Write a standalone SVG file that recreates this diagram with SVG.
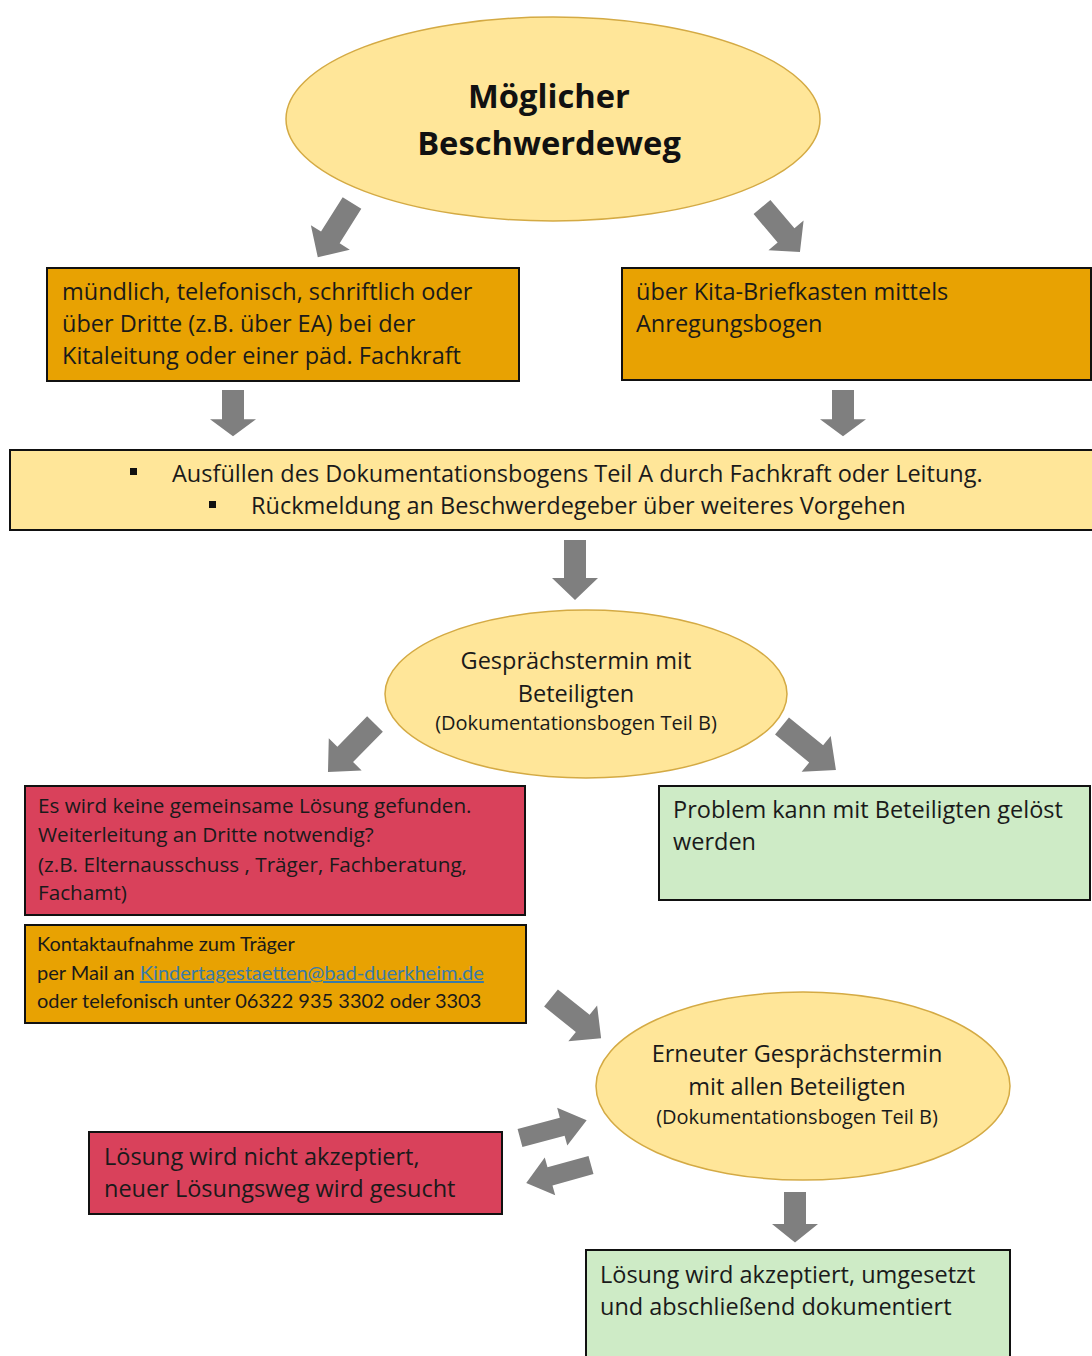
<svg xmlns="http://www.w3.org/2000/svg" xmlns:xlink="http://www.w3.org/1999/xlink" width="1092" height="1356" viewBox="0 0 1092 1356">
<style>
.t{font-family:"Open Sans","Noto Sans","Liberation Sans",sans-serif;font-size:23.5px;fill:#1a1a1a}
.s{font-size:20.7px}
.d{font-size:20px}
.k{font-family:Lato,"Open Sans",sans-serif;font-size:20px}
.b{font-weight:bold;font-size:32.7px;fill:#111}
.c{text-anchor:middle}
.ell{fill:#FFE699;stroke:#D4AA44;stroke-width:1.5}
.box{stroke:#111;stroke-width:2}
.or{fill:#E8A202}
.ye{fill:#FFE699}
.re{fill:#D9415B}
.gr{fill:#CEEBC6}
.ar{fill:#7F7F7F}
.lnk{fill:#3A7BA8;text-decoration:underline}
</style>
<defs>
<path id="arr" d="M0,-11 L38,-11 L38,-23 L60,0 L38,23 L38,11 L0,11 Z"/>
</defs>
<rect width="1092" height="1356" fill="#fff"/>

<g id="connectors" class="ar">
<use xlink:href="#arr" transform="translate(352,203) rotate(122.2) scale(1.07,1)"/>
<use xlink:href="#arr" transform="translate(762,207) rotate(49.8) scale(0.98,1)"/>
<use xlink:href="#arr" transform="translate(233,390) rotate(90) scale(0.77,1)"/>
<use xlink:href="#arr" transform="translate(843,390) rotate(90) scale(0.77,1)"/>
<use xlink:href="#arr" transform="translate(575,540) rotate(90) scale(1,1)"/>
<use xlink:href="#arr" transform="translate(375,724) rotate(134.4) scale(1.12,1)"/>
<use xlink:href="#arr" transform="translate(782,726) rotate(39.2) scale(1.16,1)"/>
<use xlink:href="#arr" transform="translate(551,998) rotate(38.7) scale(1.07,1)"/>
<use xlink:href="#arr" transform="translate(520,1138) rotate(-15) scale(1.15,0.85)"/>
<use xlink:href="#arr" transform="translate(591,1165) rotate(164.5) scale(1.12,0.85)"/>
<use xlink:href="#arr" transform="translate(795,1192) rotate(90) scale(0.84,1)"/>
</g>

<g id="n-title">
<ellipse class="ell" cx="553" cy="119" rx="267" ry="102"/>
<text class="t b c" x="549" y="108">Möglicher</text>
<text class="t b c" x="549" y="155">Beschwerdeweg</text>
</g>

<g id="n-muendlich">
<rect class="box or" x="47" y="268" width="472" height="113"/>
<text class="t" x="62" y="300">mündlich, telefonisch, schriftlich oder</text>
<text class="t" x="62" y="332">über Dritte (z.B. über EA) bei der</text>
<text class="t" x="62" y="364">Kitaleitung oder einer päd. Fachkraft</text>
</g>

<g id="n-briefkasten">
<rect class="box or" x="622" y="268" width="469" height="112"/>
<text class="t" x="636" y="300">über Kita-Briefkasten mittels</text>
<text class="t" x="636" y="332">Anregungsbogen</text>
</g>

<g id="n-dokumentation">
<rect class="box ye" x="10" y="450" width="1083" height="80"/>
<rect x="130" y="468" width="7" height="7" fill="#111"/>
<text class="t" x="172" y="482">Ausfüllen des Dokumentationsbogens Teil A durch Fachkraft oder Leitung.</text>
<rect x="209" y="501" width="7" height="7" fill="#111"/>
<text class="t" x="251" y="514">Rückmeldung an Beschwerdegeber über weiteres Vorgehen</text>
</g>

<g id="n-gespraech">
<ellipse class="ell" cx="586" cy="694" rx="201" ry="84"/>
<text class="t c" x="576" y="669">Gesprächstermin mit</text>
<text class="t c" x="576" y="702">Beteiligten</text>
<text class="t d c" x="576" y="730">(Dokumentationsbogen Teil B)</text>
</g>

<g id="n-keine-loesung">
<rect class="box re" x="25" y="786" width="500" height="129"/>
<text class="t s" x="38" y="813">Es wird keine gemeinsame Lösung gefunden.</text>
<text class="t s" x="38" y="842">Weiterleitung an Dritte notwendig?</text>
<text class="t s" x="38" y="872">(z.B. Elternausschuss , Träger, Fachberatung,</text>
<text class="t s" x="38" y="900">Fachamt)</text>
</g>

<g id="n-geloest">
<rect class="box gr" x="659" y="786" width="431" height="114"/>
<text class="t" x="673" y="818">Problem kann mit Beteiligten gelöst</text>
<text class="t" x="673" y="850">werden</text>
</g>

<g id="n-kontakt">
<rect class="box or" x="25" y="925" width="501" height="98"/>
<text class="t k" x="37" y="951">Kontaktaufnahme zum Träger</text>
<text class="t k" x="37" y="980">per Mail an <tspan class="lnk">Kindertagestaetten@bad-duerkheim.de</tspan></text>
<text class="t k" x="37" y="1008">oder telefonisch unter 06322 935 3302 oder 3303</text>
</g>

<g id="n-erneut">
<ellipse class="ell" cx="803" cy="1086" rx="207" ry="94"/>
<text class="t c" x="797" y="1062">Erneuter Gesprächstermin</text>
<text class="t c" x="797" y="1095">mit allen Beteiligten</text>
<text class="t d c" x="797" y="1124">(Dokumentationsbogen Teil B)</text>
</g>

<g id="n-nicht-akzeptiert">
<rect class="box re" x="89" y="1132" width="413" height="82"/>
<text class="t" x="104" y="1165">Lösung wird nicht akzeptiert,</text>
<text class="t" x="104" y="1197">neuer Lösungsweg wird gesucht</text>
</g>

<g id="n-akzeptiert">
<rect class="box gr" x="586" y="1250" width="424" height="110"/>
<text class="t" x="600" y="1283">Lösung wird akzeptiert, umgesetzt</text>
<text class="t" x="600" y="1315">und abschließend dokumentiert</text>
</g>
</svg>
